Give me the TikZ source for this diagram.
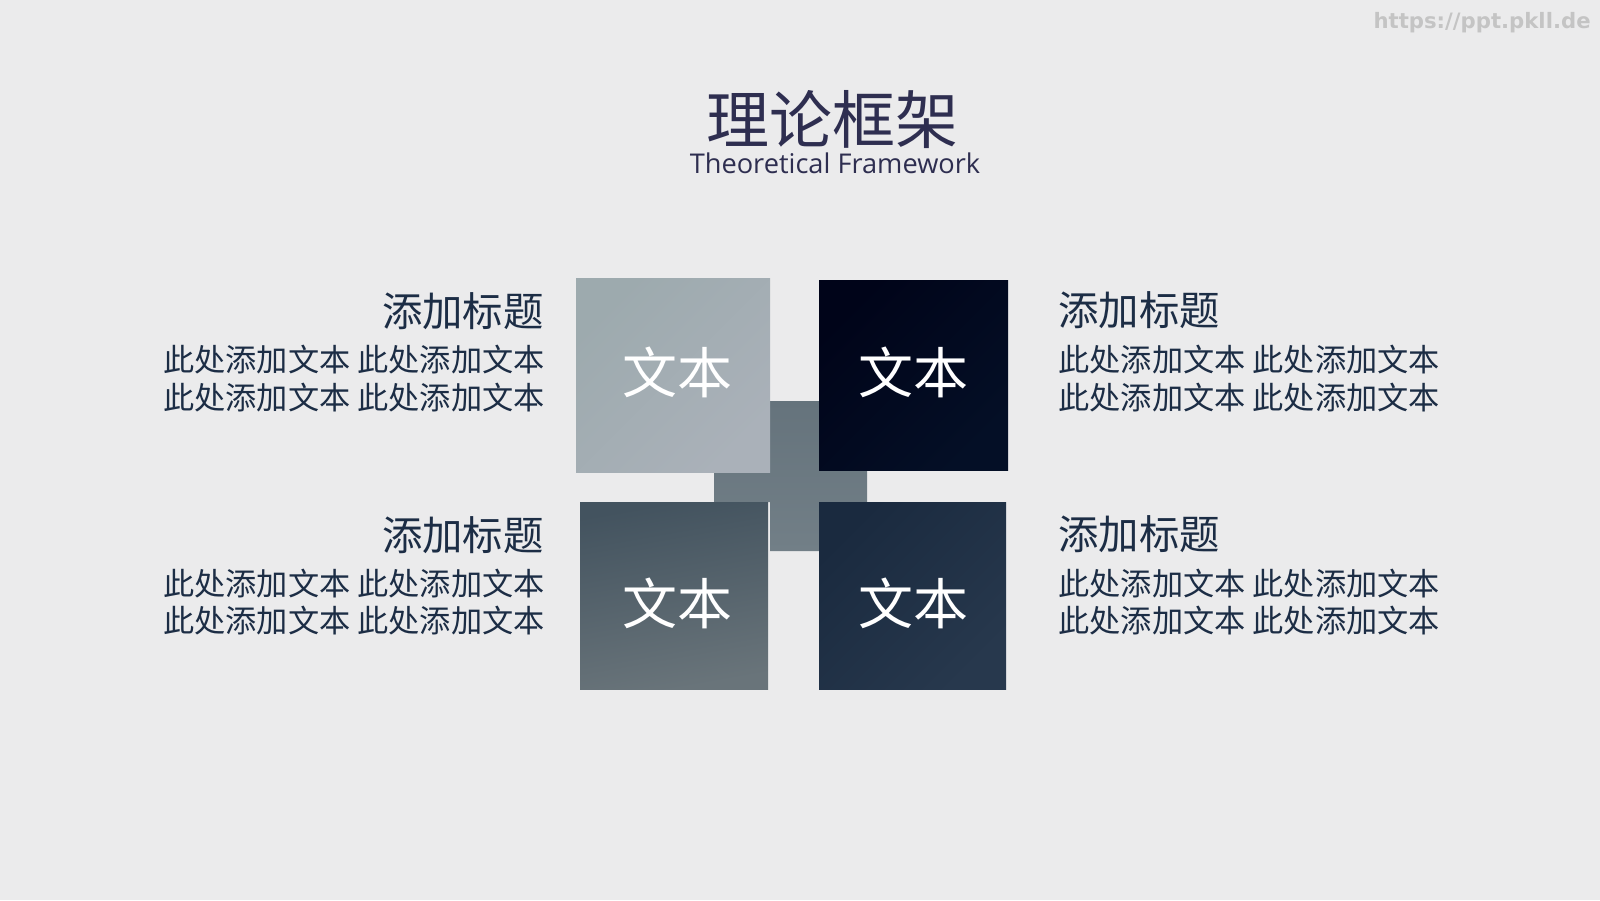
\documentclass[tikz,border=0pt]{standalone}
\usepackage{fontspec}
\setmainfont{Noto Sans CJK SC}
\newfontfamily\latinfont{Open Sans}
\newfontfamily\wmfont{DejaVu Sans}
\definecolor{bg}{HTML}{EBEBEC}
\definecolor{titlec}{HTML}{2E2E50}
\definecolor{bodyc}{HTML}{1C2D45}
\definecolor{wmc}{HTML}{C4C4C4}
\definecolor{tlA}{HTML}{9DAAAE}
\definecolor{tlB}{HTML}{AAB1B9}
\definecolor{trA}{HTML}{000419}
\definecolor{trB}{HTML}{040F26}
\definecolor{blA}{HTML}{43535F}
\definecolor{blB}{HTML}{69747A}
\definecolor{brA}{HTML}{1A2A3F}
\definecolor{brB}{HTML}{27384D}
\definecolor{crA}{HTML}{65737C}
\definecolor{crB}{HTML}{727F87}
\tikzset{
  sqtext/.style={text=white, font=\fontsize{27.5}{30}\selectfont, inner sep=0pt},
  head/.style={text=bodyc, font=\fontsize{20.2}{24}\selectfont, inner sep=0pt},
  bodytext/.style={text=bodyc, font=\fontsize{15.6}{19}\selectfont, inner sep=0pt},
}
\begin{document}
\begin{tikzpicture}[x=0.5pt,y=-0.5pt]
\useasboundingbox (0,0) rectangle (1600,900);
\fill[bg] (0,0) rectangle (1600,900);
% watermark
\node[anchor=base east, inner sep=0pt, text=wmc, font=\wmfont\bfseries\fontsize{10.6}{12}\selectfont] (wm) at (1591,28) {https://ppt.pkll.de};
% title
\node[text=titlec, font=\fontsize{31.5}{34}\selectfont, inner sep=0pt] (title) at (832,120) {理论框架};
\node[anchor=base, text=titlec, font=\latinfont\fontsize{13.6}{16}\selectfont, inner sep=0pt] (subtitle) at (835,173) {Theoretical Framework};
% cross
\shade[top color=crA, bottom color=crB] (770,401) -- (819,401) -- (819,470) -- (867,470) -- (867,502) -- (819,502) -- (819,551) -- (770,551) -- (770,502) -- (714,502) -- (714,470) -- (770,470) -- cycle;
% squares
\shade[top color=tlA, bottom color=tlB, shading angle=45] (576,278) rectangle (770,472);
\shade[top color=trA, bottom color=trB, shading angle=45] (819,280) rectangle (1008,470);
\shade[top color=blA, bottom color=blB, shading angle=10] (580,502) rectangle (768,689);
\shade[top color=brA, bottom color=brB, shading angle=45] (819,502) rectangle (1006,689);
\node[sqtext] (t1) at (677,372) {文本};
\node[sqtext] (t2) at (913.5,372) {文本};
\node[sqtext] (t3) at (677,603.5) {文本};
\node[sqtext] (t4) at (913.5,603.5) {文本};
% left texts
\node[head, anchor=base east] (lh1) at (544,326) {添加标题};
\node[bodytext, anchor=base east] (lb1a) at (545,371) {此处添加文本 此处添加文本};
\node[bodytext, anchor=base east] (lb1b) at (545,409) {此处添加文本 此处添加文本};
\node[head, anchor=base east] (lh2) at (544,550) {添加标题};
\node[bodytext, anchor=base east] (lb2a) at (545,595) {此处添加文本 此处添加文本};
\node[bodytext, anchor=base east] (lb2b) at (545,632) {此处添加文本 此处添加文本};
% right texts
\node[head, anchor=base west] (rh1) at (1058,325) {添加标题};
\node[bodytext, anchor=base west] (rb1a) at (1058,371) {此处添加文本 此处添加文本};
\node[bodytext, anchor=base west] (rb1b) at (1058,409) {此处添加文本 此处添加文本};
\node[head, anchor=base west] (rh2) at (1058,549) {添加标题};
\node[bodytext, anchor=base west] (rb2a) at (1058,595) {此处添加文本 此处添加文本};
\node[bodytext, anchor=base west] (rb2b) at (1058,632) {此处添加文本 此处添加文本};
\end{tikzpicture}
\end{document}
